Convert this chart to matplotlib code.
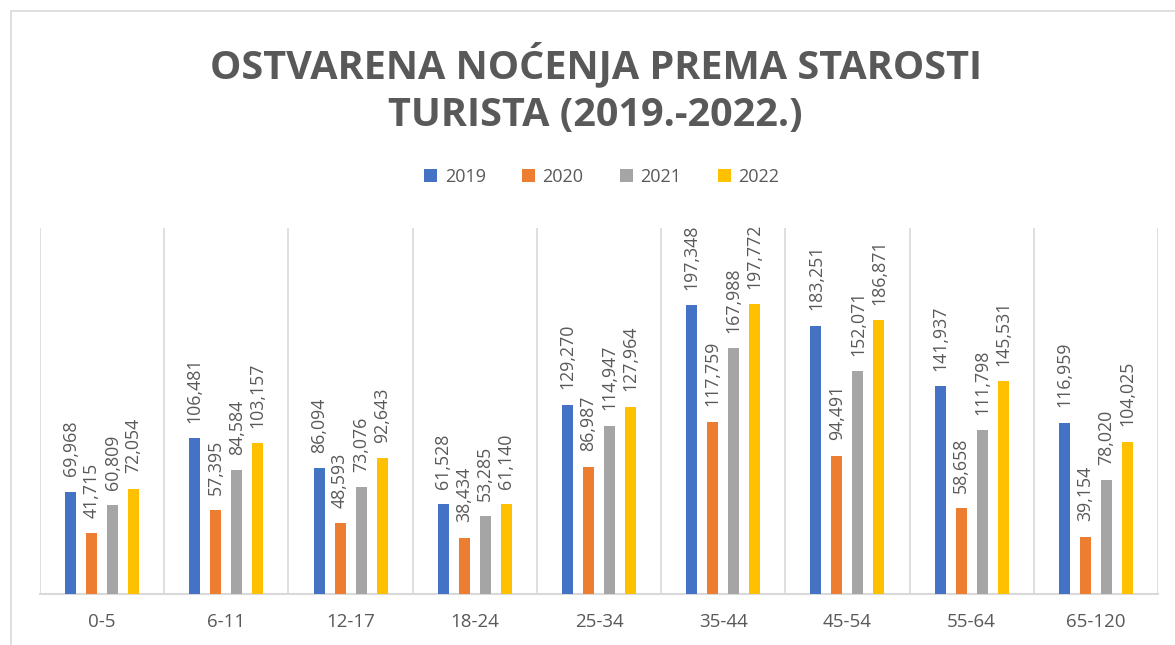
import matplotlib
matplotlib.use("Agg")
import matplotlib.pyplot as plt
from matplotlib.patches import Rectangle
import numpy as np

categories = ["0-5", "6-11", "12-17", "18-24", "25-34", "35-44", "45-54", "55-64", "65-120"]
years = ["2019", "2020", "2021", "2022"]
v2019 = [69968, 106481, 86094, 61528, 129270, 197348, 183251, 141937, 116959]
v2020 = [41715, 57395, 48593, 38434, 86987, 117759, 94491, 58658, 39154]
v2021 = [60809, 84584, 73076, 53285, 114947, 167988, 152071, 111798, 78020]
v2022 = [72054, 103157, 92643, 61140, 127964, 197772, 186871, 145531, 104025]
series = [v2019, v2020, v2021, v2022]
colors = ["#4472C4", "#ED7D31", "#A5A5A5", "#FFC000"]

txt = "#595959"
grid = "#D9D9D9"
plt.rcParams['font.family'] = ['Open Sans', 'DejaVu Sans']

fig = plt.figure(figsize=(11.75, 6.45), dpi=100)
fig.patches.append(Rectangle((10.5 / 1175, -0.1), 1.2, 1 - 11 / 645 + 0.1,
                             transform=fig.transFigure, fill=False,
                             edgecolor=grid, linewidth=1.2))

ax = fig.add_axes([40 / 1175, 51 / 645, 1118 / 1175, 366 / 645])
x = np.arange(len(categories))
width = 0.088
step = 0.169
offsets = (np.arange(4) - 1.5) * step
for i, (vals, c, y) in enumerate(zip(series, colors, years)):
    bars = ax.bar(x + offsets[i], vals, width=width, color=c, label=y, zorder=3)
    ax.bar_label(bars, labels=[f"{v:,}" for v in vals], rotation=90,
                 padding=11, color=txt, fontsize=12.8)

ax.set_xlim(-0.5, len(categories) - 0.5)
ax.set_ylim(0, 250000)
for b in np.arange(-0.5, len(categories), 1.0):
    ax.axvline(b, color=grid, linewidth=1.2, zorder=1)
for s in ["top", "right", "left"]:
    ax.spines[s].set_visible(False)
ax.spines["bottom"].set_color(grid)
ax.spines["bottom"].set_linewidth(1.5)
ax.set_yticks([])
ax.set_xticks(x)
ax.set_xticklabels(categories, color=txt, fontsize=13.5)
ax.tick_params(axis="x", length=0, pad=14)

fig.text(0.507, 1 - 64 / 645, "OSTVARENA NOĆENJA PREMA STAROSTI", ha="center", va="center",
         fontsize=28.5, fontweight="bold", color=txt)
fig.text(0.507, 1 - 116 / 645, "TURISTA (2019.-2022.)", ha="center", va="center",
         fontsize=28.5, fontweight="bold", color=txt)

h, l = ax.get_legend_handles_labels()
fig.legend(h, l, loc="center", bbox_to_anchor=(0.512, 1 - 177 / 645), ncol=4,
           frameon=False, fontsize=13, handlelength=0.75, handleheight=0.75,
           handletextpad=0.4, columnspacing=2.0, labelcolor=txt)

fig.savefig("out.png", dpi=100, facecolor="white")
